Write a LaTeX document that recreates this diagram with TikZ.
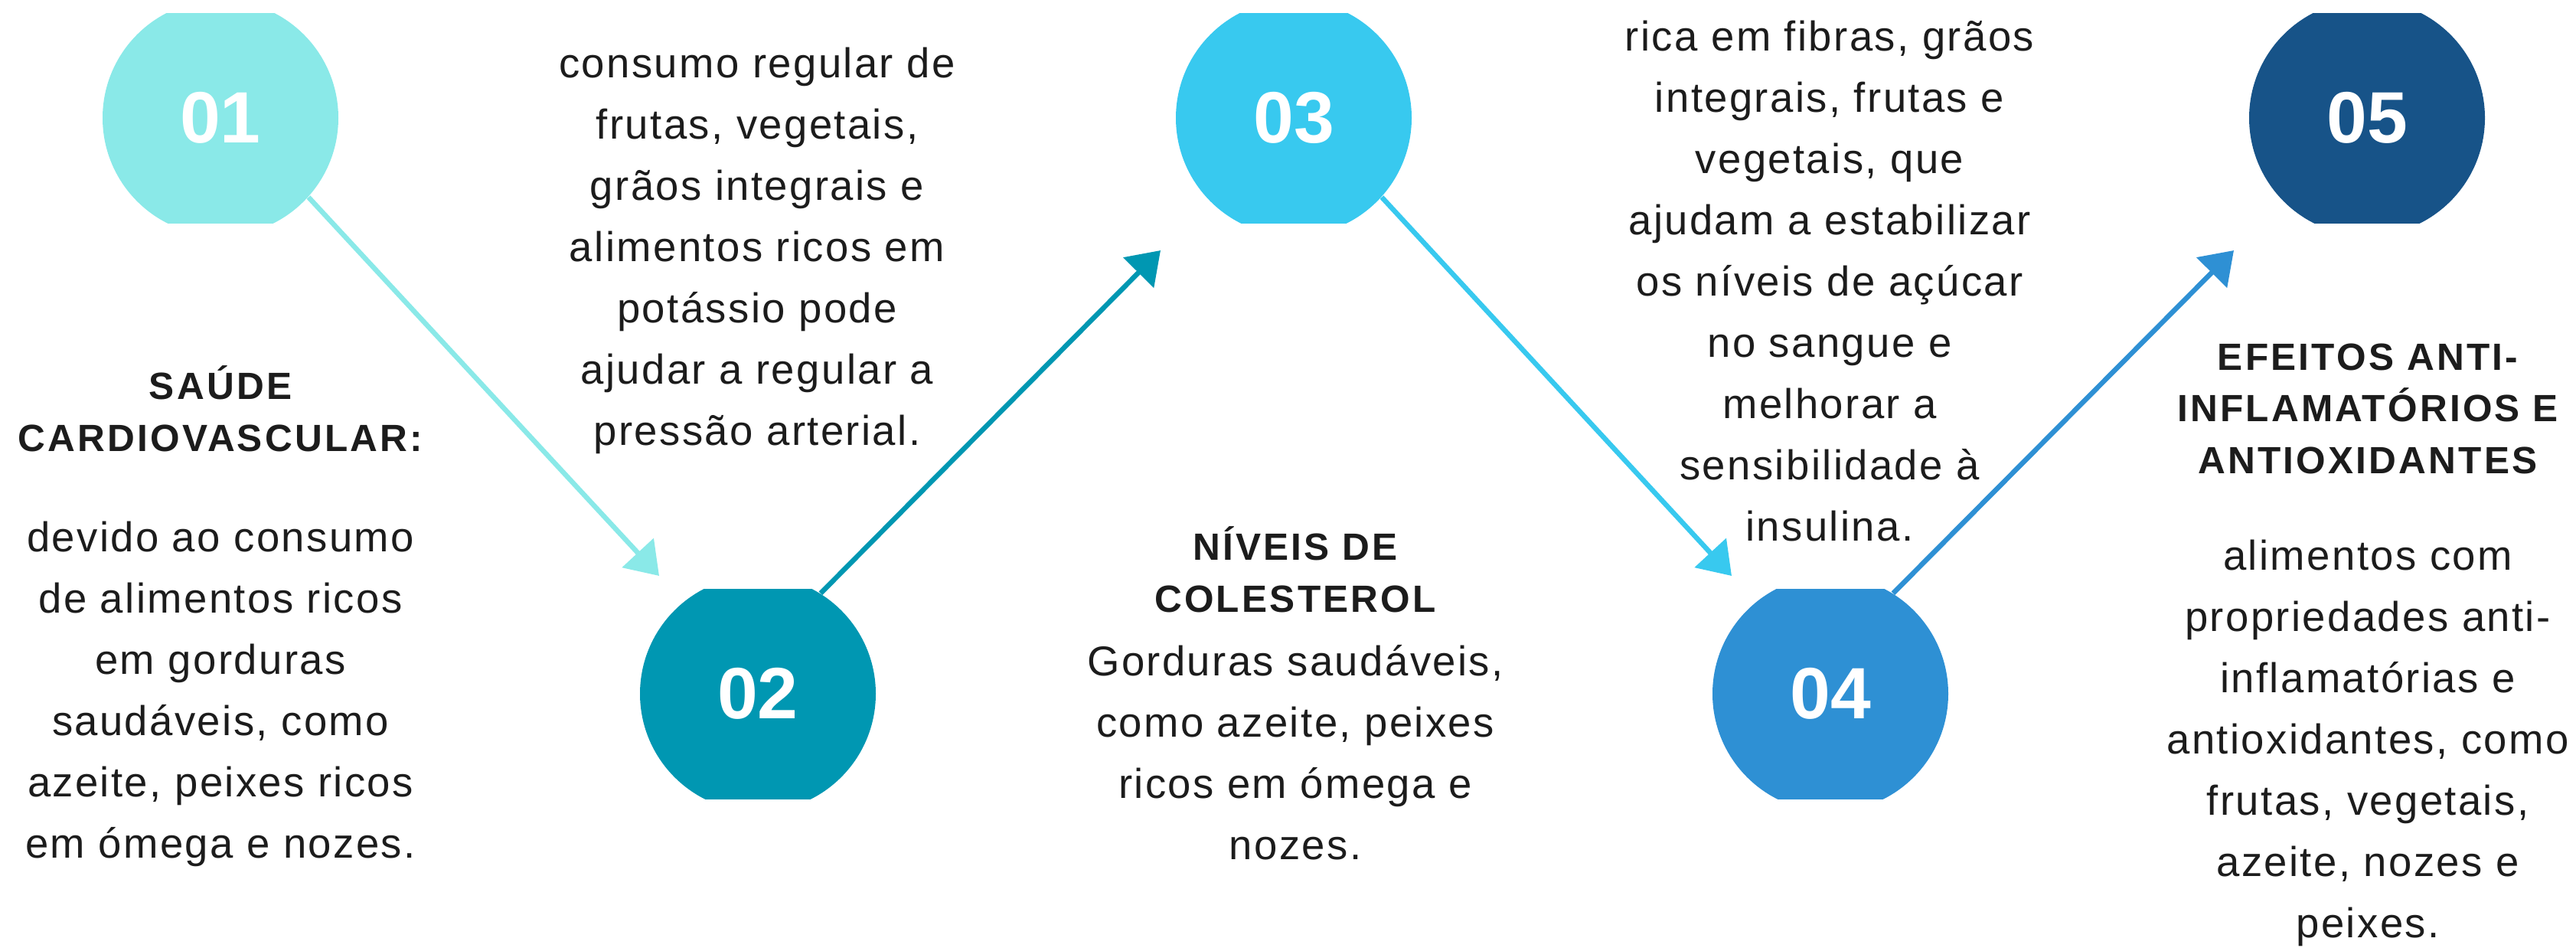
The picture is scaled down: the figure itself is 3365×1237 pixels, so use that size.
\documentclass[tikz,border=0pt]{standalone}
\usepackage{fontspec}
\setmainfont{Liberation Sans}
\newfontfamily\bodyfont[LetterSpace=4.4]{Liberation Sans}
\newfontfamily\headfont[LetterSpace=6.5]{Liberation Sans}
\usetikzlibrary{arrows.meta}
\definecolor{cA}{HTML}{8AE9E8}
\definecolor{cB}{HTML}{0097B2}
\definecolor{cC}{HTML}{38C9EF}
\definecolor{cD}{HTML}{2E90D4}
\definecolor{cE}{HTML}{175388}
\definecolor{ink}{HTML}{1C1C1C}
\begin{document}
\begin{tikzpicture}[x=0.1mm,y=-0.1mm,
    num/.style={circle,minimum size=30.8mm,inner sep=0pt,text=white,
        font=\bfseries\fontsize{27}{27}\selectfont},
    link/.style={line width=0.65mm,-{Triangle[length=4.1mm,width=5.5mm]}},
    head/.style={anchor=base,align=center,text=ink,
        font=\headfont\bfseries\fontsize{14.1}{19.1}\selectfont},
    body/.style={anchor=base,align=center,text=ink,
        font=\bodyfont\fontsize{15.5}{22.76}\selectfont}]
\useasboundingbox (0,0) rectangle (3365,1237);
% circles, cut flat at top and bottom
\foreach \i/\x/\y/\c in {1/288/154/cA,2/990/906/cB,3/1690/154/cC,4/2391/906/cD,5/3092/154/cE}
{
    \begin{scope}
        \clip (\x-154,\y-137) rectangle (\x+154,\y+137);
        \node[num,fill=\c] (n\i) at (\x,\y) {0\i};
    \end{scope}
}
% arrow ends
\coordinate (t2) at ([shift={(-129,-154)}]n2.center);
\coordinate (t4) at ([shift={(-129,-154)}]n4.center);
\coordinate (t3) at ([shift={(-174,173)}]n3.center);
\coordinate (t5) at ([shift={(-174,173)}]n5.center);
\draw[link,cA] (n1.-42) -- (t2);
\draw[link,cB] (n2.58) -- (t3);
\draw[link,cC] (n3.-42) -- (t4);
\draw[link,cD] (n4.58) -- (t5);
% texts (placed at the baseline of their last line)
\node[head] (h1) at (288,589) {SAÚDE\\CARDIOVASCULAR:};
\node[body] (b1) at (288,1120) {devido ao consumo\\de alimentos ricos\\em gorduras\\saudáveis, como\\azeite, peixes ricos\\em ómega e nozes.};
\node[body] (b2) at (989,581) {consumo regular de\\frutas, vegetais,\\grãos integrais e\\alimentos ricos em\\potássio pode\\ajudar a regular a\\pressão arterial.};
\node[head] (h3) at (1692,799) {NÍVEIS DE\\COLESTEROL};
\node[body] (b3) at (1692,1122) {Gorduras saudáveis,\\como azeite, peixes\\ricos em ómega e\\nozes.};
\node[body] (b4) at (2390,706) {rica em fibras, grãos\\integrais, frutas e\\vegetais, que\\ajudam a estabilizar\\os níveis de açúcar\\no sangue e\\melhorar a\\sensibilidade à\\insulina.};
\node[head] (h5) at (3093,618) {EFEITOS ANTI-\\INFLAMATÓRIOS E\\ANTIOXIDANTES};
\node[body] (b5) at (3093,1224) {alimentos com\\propriedades anti-\\inflamatórias e\\antioxidantes, como\\frutas, vegetais,\\azeite, nozes e\\peixes.};
\end{tikzpicture}
\end{document}
